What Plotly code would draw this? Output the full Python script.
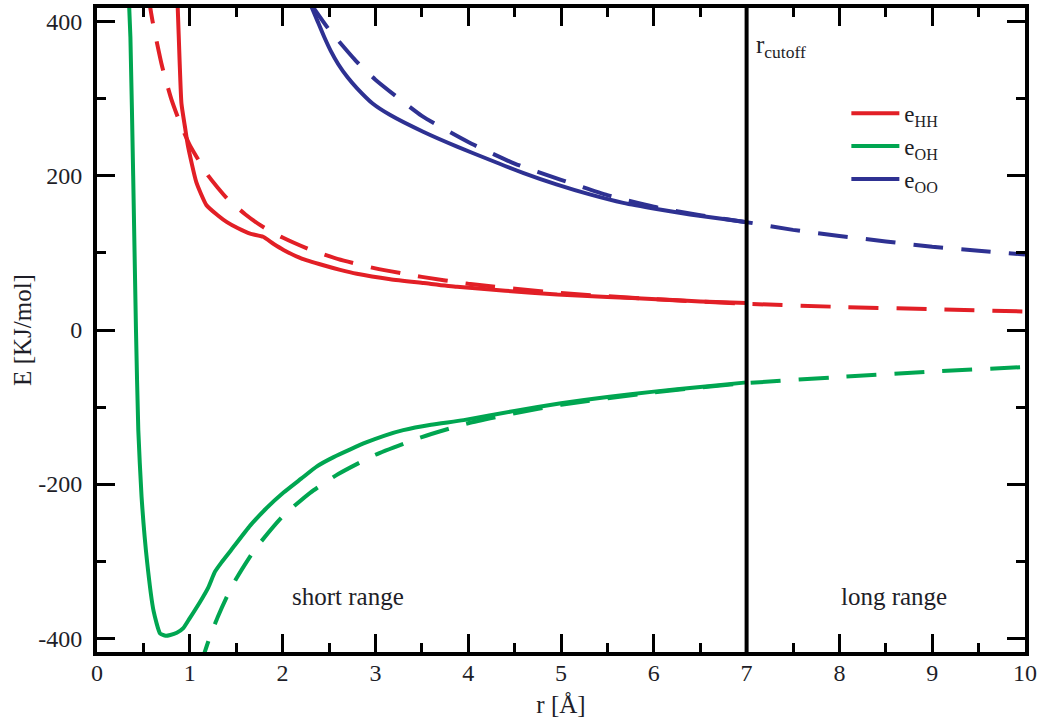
import plotly.graph_objects as go

# ---------------- data ----------------
r_cutoff = 7.0

x_tickvals = [0, 1, 2, 3, 4, 5, 6, 7, 8, 9, 10]
x_ticktext = ["0", "1", "2", "3", "4", "5", "6", "7", "8", "9", "10"]
y_tickvals = [-400, -200, 0, 200, 400]
y_ticktext = ["-400", "-200", "0", "200", "400"]

# e_HH, solid (short range only)
hh_solid_r = [0.86, 0.87, 0.89, 0.91, 0.95, 0.98, 1.07, 1.18, 1.30, 1.40, 1.52, 1.65, 1.79, 1.90, 2.01,
              2.20, 2.44, 2.62, 2.80, 3.16, 3.52, 3.88, 4.40, 4.96, 5.50, 6.03, 6.50, 7.00]
hh_solid_e = [440, 418, 350, 294, 262, 239, 192, 162, 149, 140, 132, 125, 121, 112, 104,
              93, 84, 78, 73, 66, 61, 56, 51, 46, 43, 40, 37, 35]

# e_HH, dashed
hh_dash_r = [0.55, 0.60, 0.70, 0.80, 0.90, 1.0, 1.2, 1.4, 1.6, 1.8, 2.0, 2.3, 2.6, 3.0, 3.5, 4.0, 5.0, 6.0, 7.0,
             8.0, 9.0, 10.0]
hh_dash_e = [436, 400, 343, 300, 267, 240, 200, 171, 150, 133, 120, 104, 92, 80, 69, 60, 48, 40, 34,
             30, 27, 24]

# e_OH, solid
oh_solid_r = [0.34, 0.36, 0.39, 0.42, 0.445, 0.48, 0.54, 0.61, 0.68, 0.74, 0.79, 0.86, 0.93, 1.00, 1.11, 1.20,
              1.27, 1.34, 1.45, 1.65, 1.82, 2.01, 2.20, 2.37, 2.55, 2.73, 2.90, 3.10, 3.30, 3.60, 3.95, 4.50,
              5.00, 5.50, 6.00, 6.50, 7.00]
oh_solid_e = [440, 380, 200, 0, -130, -216, -301, -365, -394, -397, -396, -393, -387, -374, -353, -334,
              -314, -302, -285, -254, -232, -211, -193, -177, -165, -155, -146, -137, -130, -123, -117, -105,
              -95, -87, -80, -74, -68]

# e_OH, dashed
oh_dash_r = [1.10, 1.2, 1.3, 1.4, 1.5, 1.7, 2.0, 2.3, 2.6, 3.0, 3.5, 4.0, 4.5, 5.0, 6.0, 7.0, 8.0, 9.0, 10.0]
oh_dash_e = [-441, -404, -373, -346, -323, -285, -242, -211, -187, -162, -139, -121, -108, -97, -81, -69,
             -61, -54, -48]

# e_OO, solid
oo_solid_r = [2.31, 2.38, 2.45, 2.52, 2.60, 2.70, 2.80, 2.97, 3.16, 3.52, 3.88, 4.23, 4.59, 4.95, 5.31, 5.67,
              6.03, 6.39, 6.75, 7.00]
oo_solid_e = [420, 400, 380, 362, 345, 328, 314, 294, 279, 257, 238, 221, 204, 189, 176, 165,
              157, 150, 144, 140]

# e_OO, dashed
oo_dash_r = [2.30, 2.5, 2.8, 3.0, 3.5, 4.0, 4.5, 5.0, 5.5, 6.0, 6.5, 7.0, 7.5, 8.0, 8.5, 9.0, 9.5, 10.0]
oo_dash_e = [424, 390, 348, 325, 278, 244, 216, 195, 175, 160, 149, 140, 130, 122, 115, 108, 103, 98]

names = ["e<sub>HH</sub>", "e<sub>OH</sub>", "e<sub>OO</sub>"]
colors = ["#e21f26", "#00a651", "#2e3192"]

FONT = "Liberation Serif, Times New Roman, serif"
TXT = "#1e1e28"

fig = go.Figure()

solids = [(hh_solid_r, hh_solid_e), (oh_solid_r, oh_solid_e), (oo_solid_r, oo_solid_e)]
dashes = [(hh_dash_r, hh_dash_e), (oh_dash_r, oh_dash_e), (oo_dash_r, oo_dash_e)]

for (rd, ed), col in zip(dashes, colors):
    fig.add_trace(go.Scatter(x=rd, y=ed, mode="lines", showlegend=False, hoverinfo="skip",
                             line=dict(color=col, width=4, dash="30px,18px", shape="spline",
                                       smoothing=0.5)))
for (r, e), name, col in zip(solids, names, colors):
    fig.add_trace(go.Scatter(x=r, y=e, mode="lines", name=name,
                             line=dict(color=col, width=4, shape="spline", smoothing=0.5)))

# cutoff line
fig.add_shape(type="line", x0=r_cutoff, x1=r_cutoff, y0=0, y1=1, xref="x", yref="paper",
              line=dict(color="black", width=4), layer="above")

axis_common = dict(
    showline=True, linecolor="black", linewidth=4, mirror="ticks",
    ticks="inside", ticklen=18, tickwidth=3, tickcolor="black",
    showgrid=False, zeroline=False,
    tickfont=dict(family=FONT, size=24, color=TXT),
)

fig.update_xaxes(range=[0, 10], tickmode="array", tickvals=x_tickvals, ticktext=x_ticktext,
                 minor=dict(dtick=0.5, tick0=0, ticks="inside", ticklen=9, tickwidth=3, tickcolor="black",
                            showgrid=False),
                 title=dict(text="r [Å]", font=dict(family=FONT, size=25, color=TXT), standoff=12),
                 ticklabelstandoff=-4,
                 **axis_common)
fig.update_yaxes(range=[-418, 418], tickmode="array", tickvals=y_tickvals, ticktext=y_ticktext,
                 minor=dict(dtick=100, tick0=0, ticks="inside", ticklen=9, tickwidth=3, tickcolor="black",
                            showgrid=False),
                 title=dict(text="E [KJ/mol]", font=dict(family=FONT, size=25, color=TXT), standoff=0),
                 ticklabelstandoff=6,
                 **axis_common)

ann_font = dict(family=FONT, size=25, color=TXT)
fig.add_annotation(x=7.08, y=368, xref="x", yref="y", text="r<sub>cutoff</sub>", showarrow=False,
                   xanchor="left", yanchor="middle", font=ann_font)
fig.add_annotation(x=2.70, y=-346, xref="x", yref="y", text="short range", showarrow=False,
                   xanchor="center", yanchor="middle", font=ann_font)
fig.add_annotation(x=8.59, y=-346, xref="x", yref="y", text="long range", showarrow=False,
                   xanchor="center", yanchor="middle", font=ann_font)

fig.update_layout(
    width=1041, height=719,
    margin=dict(l=97, r=16, t=4, b=65),
    paper_bgcolor="white", plot_bgcolor="white",
    font=dict(family=FONT, color=TXT),
    legend=dict(x=0.8075, y=0.87, xanchor="left", yanchor="top",
                bgcolor="rgba(0,0,0,0)", font=dict(family=FONT, size=23, color=TXT),
                itemwidth=48, tracegroupgap=0),
)

fig.write_html("out.html", config={"displayModeBar": False},
               post_script="document.body.style.margin='0';document.body.style.overflow='hidden';")
